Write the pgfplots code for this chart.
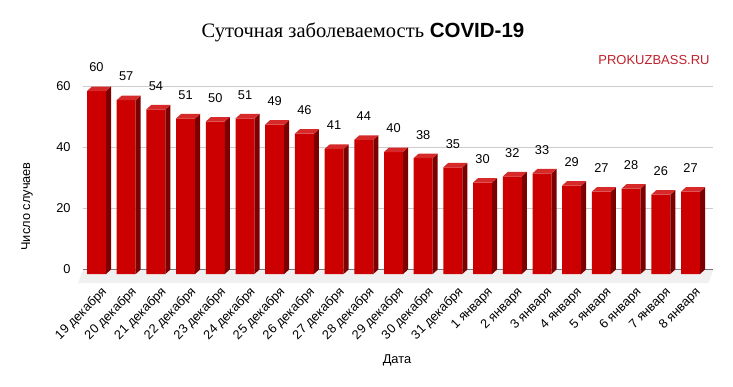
\documentclass[border=0pt]{standalone}
\usepackage{pgfplots}
\pgfplotsset{compat=1.18}
\usepackage{fontspec}
\setmainfont{Liberation Sans}
\newfontfamily\seriffont{Liberation Serif}
\definecolor{frontred}{RGB}{204,0,0}
\definecolor{topred}{RGB}{214,42,42}
\definecolor{sidered}{RGB}{125,0,0}
\definecolor{wm}{RGB}{192,32,44}
\newcommand{\tfont}{\fontsize{12.8}{14}\selectfont}

\pgfdeclareplotmark{side3d}{%
  \pgfmathsetmacro\hh{\bv*3.05}%
  \pgfpathmoveto{\pgfpoint{9.5pt}{0pt}}%
  \pgfpathlineto{\pgfpoint{14.5pt}{4.5pt}}%
  \pgfpathlineto{\pgfpoint{14.5pt}{4.5pt-\hh pt}}%
  \pgfpathlineto{\pgfpoint{9.5pt}{-\hh pt}}%
  \pgfpathclose\pgfusepathqfill}
\pgfdeclareplotmark{top3d}{%
  \pgfpathmoveto{\pgfpoint{-9.5pt}{0pt}}%
  \pgfpathlineto{\pgfpoint{9.5pt}{0pt}}%
  \pgfpathlineto{\pgfpoint{14.5pt}{4.5pt}}%
  \pgfpathlineto{\pgfpoint{-4.5pt}{4.5pt}}%
  \pgfpathclose\pgfusepathqfill}

\pgfplotstableread{
x v
0 60
1 57
2 54
3 51
4 50
5 51
6 49
7 46
8 41
9 44
10 40
11 38
12 35
13 30
14 32
15 33
16 29
17 27
18 28
19 26
20 27
}\cases

\begin{document}
\begin{tikzpicture}[x=1pt,y=1pt]
\useasboundingbox (0,0) rectangle (733,386);
% back wall: grid and y axis
\begin{axis}[at={(101.5pt,116.5pt)}, anchor=origin,
  x=29.7pt, y=3.05pt, xmin=-0.62, xmax=20.6, ymin=0, ymax=65,
  axis line style={draw=none}, xtick=\empty,
  ytick={20,40,60}, extra y ticks={0},
  extra y tick style={grid style={black!80, line width=0.8pt}},
  ymajorgrids, grid style={black!20, line width=0.8pt},
  major tick length=0pt,
  yticklabel style={font=\tfont, anchor=east, xshift=-9pt},
  /pgf/number format/assume math mode=true,
  ylabel={Число случаев},
  ylabel style={font=\tfont, at={(axis description cs:-0.089,0.318)}, anchor=center},
  clip=false]
\addplot[draw=none, fill=black!6] coordinates {(-0.62,0) (20.6,0) (20.43,-4.5) (-0.79,-4.5)} -- cycle;
\end{axis}
% front: bars
\begin{axis}[at={(96.5pt,112pt)}, anchor=origin,
  x=29.7pt, y=3.05pt, xmin=-0.5, xmax=20.5, ymin=0, ymax=65,
  axis line style={draw=none}, ytick=\empty,
  xtick={0,...,20},
  xticklabels={19 декабря,20 декабря,21 декабря,22 декабря,23 декабря,24 декабря,25 декабря,26 декабря,27 декабря,28 декабря,29 декабря,30 декабря,31 декабря,1 января,2 января,3 января,4 января,5 января,6 января,7 января,8 января},
  major tick length=0pt,
  xticklabel style={font=\tfont, inner sep=0pt, anchor=north east, xshift=4pt, yshift=-12pt, rotate=45},
  /pgf/number format/assume math mode=true,
  xlabel={Дата},
  xlabel style={font=\tfont, at={(axis description cs:0.5056,-0.434)}, anchor=center},
  clip=false]
\addplot[only marks, draw=none, fill=sidered, mark=side3d,
  visualization depends on={rawy \as \bv}] table[x=x,y=v] {\cases};
\addplot[only marks, draw=none, fill=topred, mark=top3d] table[x=x,y=v] {\cases};
\addplot[ybar, bar width=19pt, fill=frontred, draw=none,
  nodes near coords,
  every node near coord/.append style={font=\tfont, anchor=center, inner sep=0pt, yshift=23.5pt, text=black}]
  table[x=x,y=v] {\cases};
\end{axis}
\node[font=\fontsize{20.5}{23}\selectfont, anchor=center] at (363,354)
  {{\seriffont Суточная заболеваемость} \textbf{COVID-19}};
\node[font=\fontsize{13}{15}\selectfont, text=wm, anchor=center] at (654,326) {PROKUZBASS.RU};
\end{tikzpicture}
\end{document}
